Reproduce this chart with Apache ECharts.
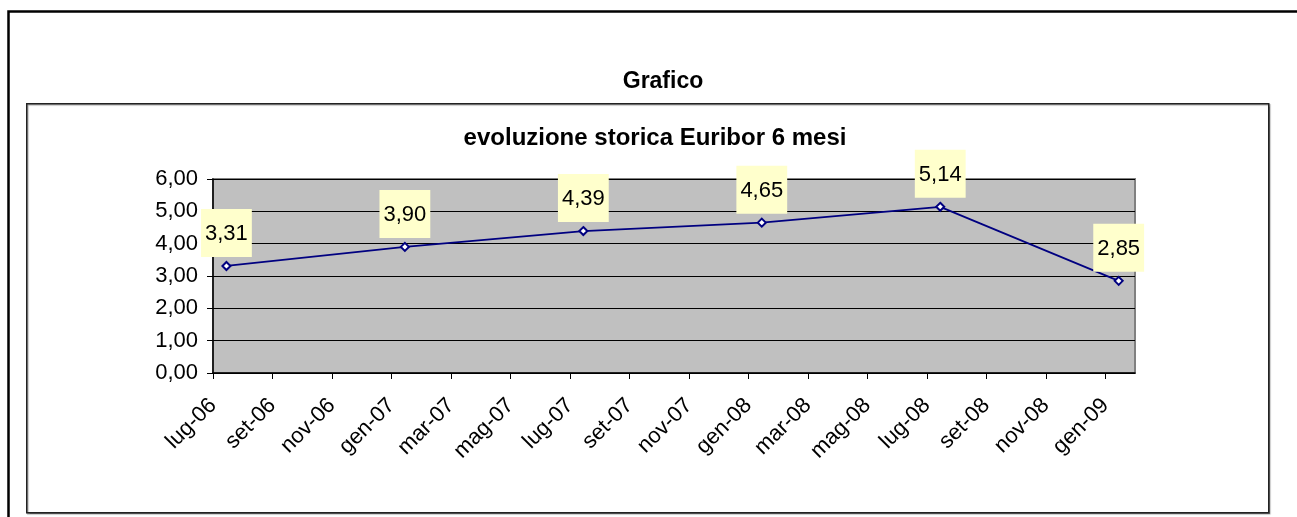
<!DOCTYPE html>
<html>
<head>
<meta charset="utf-8">
<script src="https://cdn.jsdelivr.net/npm/echarts@6/dist/echarts.min.js"></script>
<style>
html,body{margin:0;padding:0;background:#fff;}
#chart{width:1297px;height:517px;}
</style>
</head>
<body>
<div id="chart"></div>
<script>
// ---- data ----
const chartTitle = 'Grafico';
const chartSubtitle = 'evoluzione storica Euribor 6 mesi';
const dates = ['2006-07-15', '2007-01-15', '2007-07-15', '2008-01-15', '2008-07-15', '2009-01-15'];
const values = [3.31, 3.90, 4.39, 4.65, 5.14, 2.85];
const monthNames = ['gen', 'feb', 'mar', 'apr', 'mag', 'giu', 'lug', 'ago', 'set', 'ott', 'nov', 'dic'];
const axisStart = { year: 2006, month: 7 };   // lug-06
const axisMonths = 31;                          // lug-06 .. feb-09
const tickStepMonths = 2;
const yTicks = [0, 1, 2, 3, 4, 5, 6];

// months since axis start (fractional, by day of month)
function monthPos(d) {
  const [y, m, day] = d.split('-').map(Number);
  const dim = new Date(y, m, 0).getDate();
  return (y - axisStart.year) * 12 + (m - axisStart.month) + (day - 1) / dim;
}
function monthLabel(v) {
  const idx = Math.round(v) + axisStart.month - 1;
  const y = axisStart.year + Math.floor(idx / 12);
  return monthNames[idx % 12] + '-' + String(y % 100).padStart(2, '0');
}
const fmt = v => v.toFixed(2).replace('.', ',');

const seriesData = dates.map((d, i) => [monthPos(d), values[i]]);

const FONT = "'Liberation Sans', Arial, sans-serif";
const chart = echarts.init(document.getElementById('chart'), null, { renderer: 'canvas' });
chart.setOption({
  animation: false,
  backgroundColor: '#ffffff',
  graphic: [
    { type: 'rect', left: 6, top: 9, shape: { width: 1300, height: 520 },
      style: { fill: 'none', stroke: '#000', lineWidth: 2.5 }, silent: true, z: -1 },
    { type: 'rect', left: 26, top: 103, shape: { width: 1242, height: 409 },
      style: { fill: '#fff', stroke: '#222', lineWidth: 1.5, shadowColor: 'rgba(0,0,0,0.35)', shadowOffsetX: 1, shadowOffsetY: 1, shadowBlur: 1 }, silent: true, z: -1 }
  ],
  title: [
    { text: chartTitle, left: 658, top: 65, textAlign: 'center',
      textStyle: { fontFamily: FONT, fontSize: 23, fontWeight: 'bold', color: '#000' } },
    { text: chartSubtitle, left: 650, top: 121, textAlign: 'center',
      textStyle: { fontFamily: FONT, fontSize: 24, fontWeight: 'bold', color: '#000' } }
  ],
  grid: {
    left: 213, top: 179, right: 162, bottom: 144,
    show: true, backgroundColor: '#C0C0C0', borderColor: '#808080', borderWidth: 2
  },
  xAxis: {
    type: 'value', min: 0, max: axisMonths, interval: tickStepMonths,
    axisLine: { show: true, onZero: false, lineStyle: { color: '#000', width: 1.5 } },
    axisTick: { show: true, inside: false, length: 6, lineStyle: { color: '#000', width: 1 } },
    splitLine: { show: false },
    axisLabel: {
      rotate: 45, margin: 29, color: '#000', fontFamily: FONT, fontSize: 22,
      showMaxLabel: false,
      formatter: v => (v <= 30 ? monthLabel(v) : '')
    }
  },
  yAxis: {
    type: 'value', min: yTicks[0], max: yTicks[yTicks.length - 1], interval: 1,
    axisLine: { show: true, lineStyle: { color: '#000', width: 1.5 } },
    axisTick: { show: true, inside: false, length: 6, lineStyle: { color: '#000', width: 1 } },
    splitLine: { show: true, lineStyle: { color: '#000', width: 1 } },
    axisLabel: { margin: 15, color: '#000', fontFamily: FONT, fontSize: 22, formatter: v => fmt(v) }
  },
  series: [{
    type: 'line',
    data: seriesData,
    symbol: 'emptyDiamond',
    symbolSize: 8,
    lineStyle: { color: '#000080', width: 1.8 },
    itemStyle: { color: '#000080', borderColor: '#000080', borderWidth: 1.5 },
    label: {
      show: true, position: 'top', distance: 4,
      formatter: p => fmt(p.value[1]),
      color: '#000', fontFamily: FONT, fontSize: 22, lineHeight: 22,
      backgroundColor: '#FFFFCC', padding: [14, 4, 12, 4]
    },
    z: 5
  }]
});
</script>
</body>
</html>
